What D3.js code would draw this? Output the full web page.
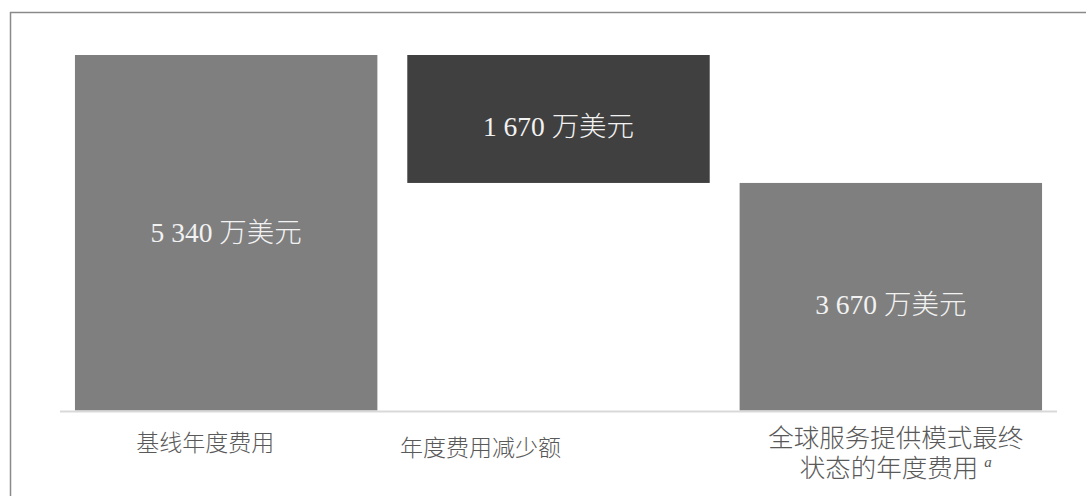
<!DOCTYPE html>
<html>
<head>
<meta charset="utf-8">
<script src="https://cdn.jsdelivr.net/npm/d3@7.9.0/dist/d3.min.js"></script>
<style>
  body { margin: 0; background: #fff; }
  svg { display: block; }
</style>
</head>
<body>
<svg width="1086" height="496"></svg>
<script>
// data
const categories = ['基线年度费用', '年度费用减少额', '全球服务提供模式最终状态的年度费用'];
const baseValues = [0, 3670, 0];       // invisible part under each bar
const barValues = [5340, 1670, 3670];  // visible part
const barLabels = ['5 340 万美元', '1 670 万美元', '3 670 万美元'];
const barColors = ['#7f7f7f', '#404040', '#7f7f7f'];

const svg = d3.select('svg');
const font = '"Liberation Serif", "Noto Sans CJK SC", serif';

// frame (only top and left edges visible)
svg.append('path')
   .attr('d', 'M10.5,496V12.5H1086')
   .attr('fill', 'none')
   .attr('stroke', '#8a8a8a')
   .attr('stroke-width', 1.5);

const x = d3.scaleBand()
    .domain(categories)
    .range([60, 1057])
    .paddingInner(0.09)
    .paddingOuter(0.045);

// value axis starts near 700 in the original
const y = d3.scaleLinear()
    .domain([700, 5340])
    .range([410.5, 55]);

const yv = v => y(Math.max(v, 700));

categories.forEach((c, i) => {
    const top = yv(baseValues[i] + barValues[i]);
    const bottom = yv(baseValues[i]);
    svg.append('rect')
       .attr('x', x(c))
       .attr('y', top)
       .attr('width', x.bandwidth())
       .attr('height', bottom - top)
       .attr('fill', barColors[i]);

    svg.append('text')
       .attr('x', x(c) + x.bandwidth() / 2)
       .attr('y', (top + bottom) / 2 + (i === 0 ? 0 : 8))
       .attr('text-anchor', 'middle')
       .attr('dominant-baseline', 'central')
       .attr('fill', '#f2f2f2')
       .style('font-family', font)
       .style('font-weight', 300)
       .style('font-size', '27.5px')
       .text(barLabels[i]);
});

// category axis line
svg.append('line')
   .attr('x1', x.range()[0]).attr('x2', x.range()[1])
   .attr('y1', y(700) + 1).attr('y2', y(700) + 1)
   .attr('stroke', '#d9d9d9')
   .attr('stroke-width', 2);

// category labels (placed as in the original)
const labelShift = [-21, -78, 5];
const labelLines = [['基线年度费用'], ['年度费用减少额'], ['全球服务提供模式最终', '状态的年度费用']];
const labelY = [443, 448, 438];

labelLines.forEach((lines, i) => {
    const cx = x(categories[i]) + x.bandwidth() / 2 + labelShift[i];
    const t = svg.append('text')
       .attr('x', cx)
       .attr('y', labelY[i])
       .attr('text-anchor', 'middle')
       .attr('dominant-baseline', 'central')
       .attr('fill', '#595959')
       .style('font-family', font)
       .style('font-weight', 300)
       .style('font-size', i === 2 ? '25.5px' : '23px');
    lines.forEach((ln, j) => {
        t.append('tspan')
           .attr('x', cx)
           .attr('dy', j === 0 ? 0 : 30)
           .text(ln);
        if (i === 2 && j === 1) {
            t.append('tspan')
             .attr('dx', 6)
             .attr('dy', -6)
             .style('font-size', '15px')
             .style('font-style', 'italic')
             .text('a');
        }
    });
});
</script>
</body>
</html>
